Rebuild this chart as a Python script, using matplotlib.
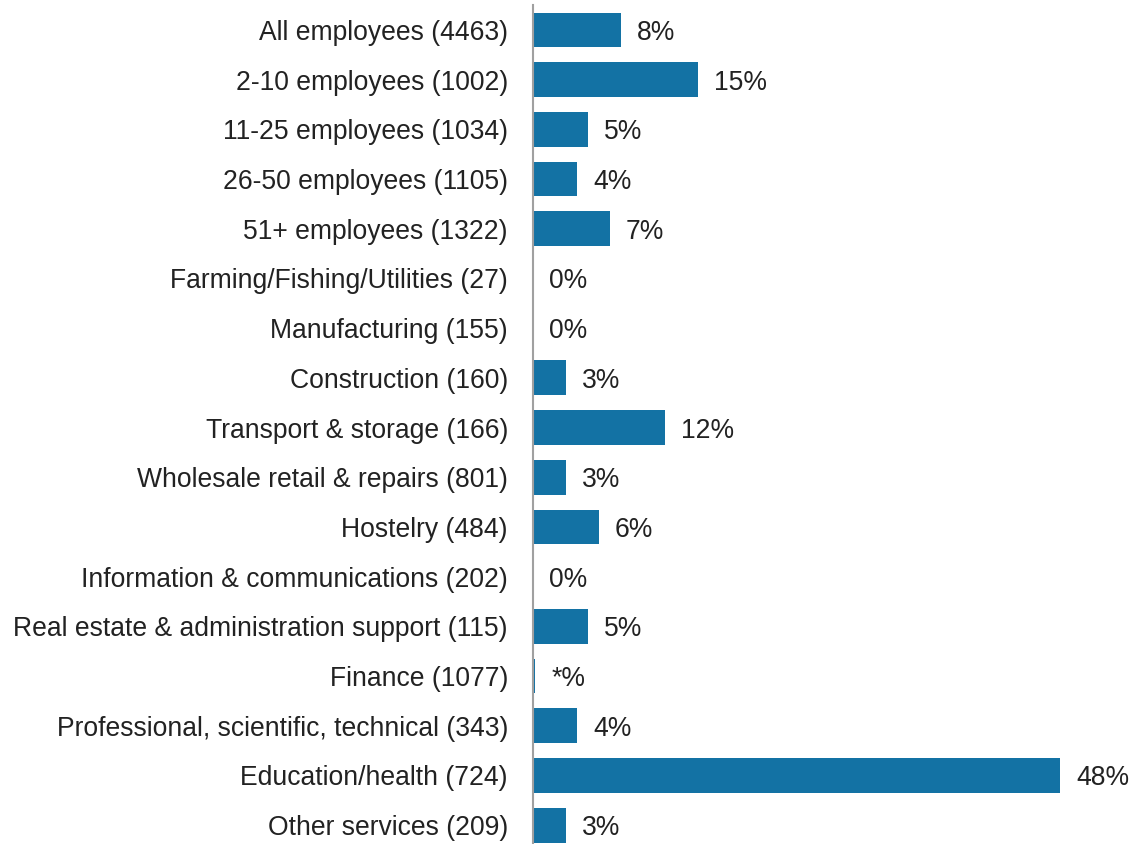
import matplotlib
matplotlib.use("Agg")
import matplotlib.pyplot as plt

# -------------------- Data --------------------

categories = [
    "All employees (4463)",
    "2-10 employees (1002)",
    "11-25 employees (1034)",
    "26-50 employees (1105)",
    "51+ employees (1322)",
    "Farming/Fishing/Utilities (27)",
    "Manufacturing (155)",
    "Construction (160)",
    "Transport & storage (166)",
    "Wholesale retail & repairs (801)",
    "Hostelry (484)",
    "Information & communications (202)",
    "Real estate & administration support (115)",
    "Finance (1077)",
    "Professional, scientific, technical (343)",
    "Education/health (724)",
    "Other services (209)",
]
# percent of employers; Finance is below 0.5% and shown as "*"
values = [8, 15, 5, 4, 7, 0, 0, 3, 12, 3, 6, 0, 5, 0.2, 4, 48, 3]

BAR_COLOR = "#1372a4"
TEXT_COLOR = "#222222"
FONT_SIZE = 19.1

plt.rcParams["font.family"] = ["Liberation Sans", "DejaVu Sans"]

# -------------------- Plot --------------------

fig = plt.figure(figsize=(11.34, 8.44), dpi=100)
ax = fig.add_axes([0.47, 0.0, 0.53, 0.994])

ypos = list(range(len(categories)))
ax.barh(ypos, values, height=0.7, color=BAR_COLOR)

for y, v in zip(ypos, values):
    label = "*%" if 0 < v < 0.5 else f"{v:.0f}%"
    ax.annotate(label, xy=(v, y), xytext=(11.5, 0), textcoords="offset points",
                ha="left", va="center_baseline", fontsize=FONT_SIZE, color=TEXT_COLOR)

ax.set_xlim(0, 54.7)
ax.set_ylim(16.38, -0.5)
ax.set_yticks(ypos)
ax.set_yticklabels(categories, fontsize=FONT_SIZE, color=TEXT_COLOR,
                   va="center_baseline")
ax.tick_params(axis="y", length=0, pad=18)
ax.set_xticks([])

for side in ["top", "right", "bottom"]:
    ax.spines[side].set_visible(False)
ax.spines["left"].set_color("#a0a0a0")
ax.spines["left"].set_linewidth(1.5)

fig.savefig("out.png", dpi=100)
